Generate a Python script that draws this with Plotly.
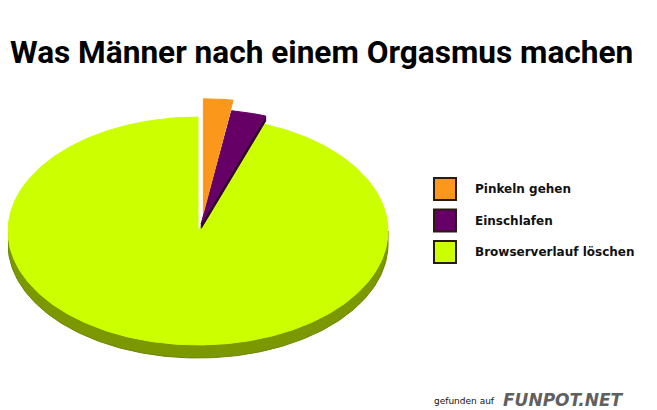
import numpy as np
import plotly.graph_objects as go

# ---- data ----
title_text = "Was Männer nach einem Orgasmus machen"
labels = ["Pinkeln gehen", "Einschlafen", "Browserverlauf löschen"]
values = [2.5, 3.0, 94.5]
colors = ["#fb981c", "#660066", "#ccff00"]
side_colors = ["#b86a0a", "#330033", "#7b9800"]
pulls = [0.16, 0.07, 0.0]
credit_left = "gefunden auf"
credit_right = "FUNPOT.NET"

# ---- style / geometry (pixel-like axis units) ----
W, H = 657, 410
PAD = 8  # page body margin of the browser
cx, cy, rx, ry = 198, 231, 190, 114
depth = 13

fig = go.Figure()

total = float(sum(values))
fracs = [v / total for v in values]
starts = np.cumsum([0] + fracs[:-1]) * 2 * np.pi
ends = np.cumsum(fracs) * 2 * np.pi


def pt(t, ox=0.0, oy=0.0):
    return cx + ox + rx * np.sin(t), cy + oy - ry * np.cos(t)


def offset(i):
    mid = (starts[i] + ends[i]) / 2
    return pulls[i] * rx * np.sin(mid) + (3 if i == 0 else 0), -pulls[i] * ry * np.cos(mid)


def add_poly(xs, ys, color, line_color=None):
    fig.add_trace(go.Scatter(
        x=list(xs) + [xs[0]], y=list(ys) + [ys[0]], mode="lines", fill="toself",
        fillcolor=color, line=dict(color=line_color or color, width=1),
        hoverinfo="skip", showlegend=False))


# green slice (index 2) side: front half of the rim
gi = 2
ox, oy = offset(gi)
t_front = np.linspace(max(starts[gi], np.pi / 2), min(ends[gi], 3 * np.pi / 2), 200)
tx, ty = pt(t_front, ox, oy)
bx, by = pt(t_front[::-1], ox, oy + depth)
add_poly(np.concatenate([tx, bx]), np.concatenate([ty, by]), side_colors[gi], "#6a8400")

# green top face
t = np.linspace(starts[gi], ends[gi], 400)
ax_, ay_ = pt(t, ox, oy)
add_poly(np.concatenate([[cx + ox], ax_]), np.concatenate([[cy + oy], ay_]), colors[gi])

# pulled slices: purple then orange
for i, d in [(1, 5), (0, 0)]:
    ox, oy = offset(i)
    if d:
        ex, ey = pt(ends[i], ox, oy)
        add_poly([cx + ox, ex, ex, cx + ox], [cy + oy, ey, ey + d, cy + oy + d], side_colors[i])
    t = np.linspace(starts[i], ends[i], 60)
    ax_, ay_ = pt(t, ox, oy)
    add_poly(np.concatenate([[cx + ox], ax_]), np.concatenate([[cy + oy], ay_]), colors[i])

# legend built from labels/colors
shapes = []
annotations = []
leg_x0, leg_y0, leg_step, sq = 434, 178, 31.5, 22
for k, (lab, col) in enumerate(zip(labels, colors)):
    y0 = leg_y0 + k * leg_step
    shapes.append(dict(type="rect", xref="x", yref="y", x0=leg_x0, x1=leg_x0 + sq,
                       y0=y0, y1=y0 + sq, fillcolor=col,
                       line=dict(color="#2a1a10", width=2)))
    annotations.append(dict(x=473, y=y0 + sq / 2, xref="x", yref="y", text=lab,
                            showarrow=False, xanchor="left", yanchor="middle",
                            font=dict(family="DejaVu Sans", size=12, color="#111111",
                                      weight="bold")))

annotations.append(dict(x=0, y=1 - (53 - PAD) / (H - PAD), xref="paper", yref="paper",
                        text=title_text, showarrow=False,
                        xanchor="left", yanchor="middle",
                        font=dict(family="Roboto", size=31.6, color="#000000", weight="bold")))
annotations.append(dict(x=432, y=401, xref="x", yref="y", text=credit_left, showarrow=False,
                        xanchor="left", yanchor="middle",
                        font=dict(family="DejaVu Sans", size=9, color="#111111")))
annotations.append(dict(x=501, y=400, xref="x", yref="y", text="<b><i>" + credit_right + "</i></b>",
                        showarrow=False, xanchor="left", yanchor="middle",
                        font=dict(family="DejaVu Sans", size=17, color="#606060")))

fig.update_layout(
    width=W - PAD, height=H - PAD, margin=dict(l=0, r=0, t=0, b=0),
    paper_bgcolor="white", plot_bgcolor="white",
    xaxis=dict(range=[PAD, W], visible=False, fixedrange=True),
    yaxis=dict(range=[H, PAD], visible=False, fixedrange=True),
    shapes=shapes, annotations=annotations, showlegend=False,
)

fig.write_html("out.html")
